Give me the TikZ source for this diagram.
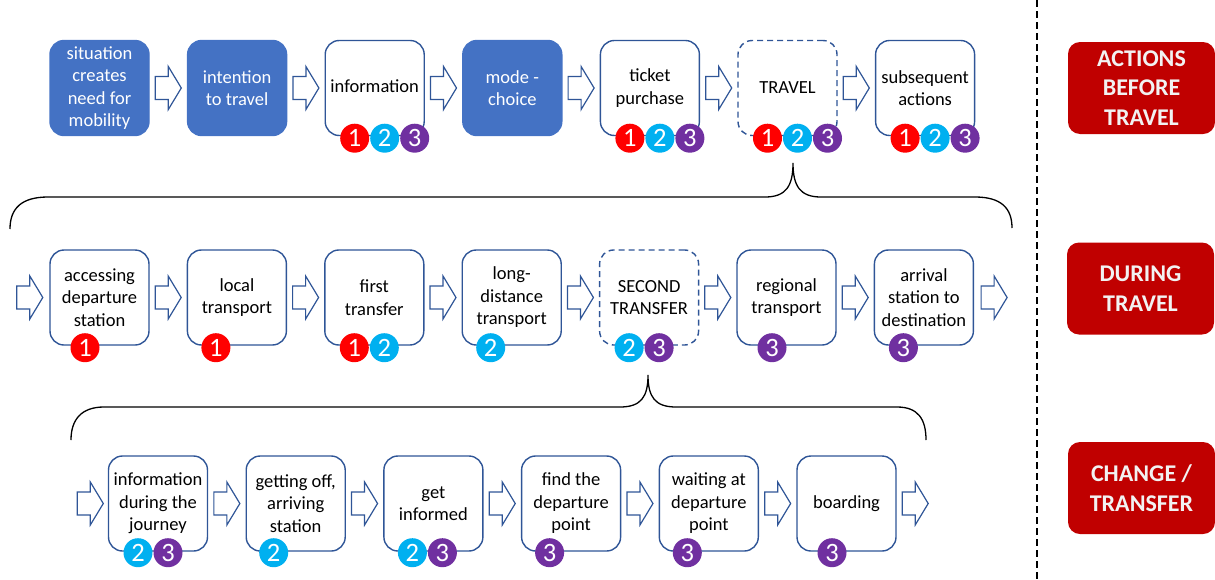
\documentclass[tikz,border=0pt]{standalone}
\usepackage{fontspec}
\setmainfont{Carlito}
\usetikzlibrary{calc}
\definecolor{boxblue}{HTML}{4472C4}
\definecolor{edgeblue}{HTML}{2F5597}
\definecolor{badgered}{HTML}{FF0000}
\definecolor{badgecyan}{HTML}{00B0F0}
\definecolor{badgepurple}{HTML}{7030A0}
\definecolor{phasered}{HTML}{C00000}
\definecolor{phasetext}{HTML}{F2F2F2}
\tikzset{
  stage/.style={draw=edgeblue, line width=1.4pt, rounded corners=14pt,
    minimum width=99pt, minimum height=95pt, align=center, inner sep=2pt,
    fill=white, font=\fontsize{18.5}{22.5}\selectfont},
  filledstage/.style={stage, fill=boxblue, draw=boxblue, text=white},
  dashedstage/.style={stage, dash pattern=on 6pt off 4pt},
  badge/.style={circle, minimum size=29pt, inner sep=0pt, text=white,
    font=\fontsize{26.5}{26.5}\selectfont},
  badgeone/.style={badge, fill=badgered},
  badgetwo/.style={badge, fill=badgecyan},
  badgethree/.style={badge, fill=badgepurple},
  phase/.style={fill=phasered, rounded corners=12pt, text=phasetext,
    font=\bfseries\fontsize{24}{29.5}\selectfont, align=center,
    minimum width=147pt, minimum height=92pt, inner sep=0pt},
  bracket/.style={draw=black, line width=1.3pt},
  flowarrow/.pic={
    \draw[draw=edgeblue, fill=white, line width=1.2pt]
      (-13,-11.5) -- (0,-11.5) -- (0,-21.5) -- (13,0) -- (0,21.5)
      -- (0,11.5) -- (-13,11.5) -- cycle;
  }
}
\begin{document}
\begin{tikzpicture}[x=1pt, y=-1pt]
\useasboundingbox (0,0) rectangle (1215,579);

% separator between flow and phase labels
\draw[dash pattern=on 7pt off 4pt, line width=1.3pt] (1037,0) -- (1037,579);

% ---- actions before travel
\node[filledstage] (a1) at (99.5,88)  {situation\\creates\\need for\\mobility};
\node[filledstage] (a2) at (237.1,88) {intention\\to travel};
\node[stage]       (a3) at (374.7,88) {\raisebox{4pt}{information}};
\node[filledstage] (a4) at (512.3,88) {mode -\\choice};
\node[stage]       (a5) at (649.9,88) {ticket\\purchase};
\node[dashedstage] (a6) at (787.5,88) {TRAVEL};
\node[stage]       (a7) at (925.1,88) {subsequent\\actions};

\foreach \p/\q in {a1/a2,a2/a3,a3/a4,a4/a5,a5/a6,a6/a7}
  \path ($(\p.east)!0.5!(\q.west)$) pic {flowarrow};

\foreach \s in {a3,a5,a6,a7}{
  \node[badgeone]   (\s-one)   at ($(\s.south)+(-20,2)$) {1};
  \node[badgetwo]   (\s-two)   at ($(\s.south)+(10,2)$)  {2};
  \node[badgethree] (\s-three) at ($(\s.south)+(40,2)$)  {3};
}

% brace opening the travel stage
\draw[bracket] (10,229) .. controls (10,208) and (22,197) .. (48,197)
  -- (765,197) .. controls (786,197) and (793,186) .. (793,163)
  .. controls (793,186) and (800,197) .. (821,197)
  -- (975,197) .. controls (1001,197) and (1012,208) .. (1012,228);

% ---- during travel
\node[stage]       (b1) at (99.5,297.5)  {accessing\\departure\\station};
\node[stage]       (b2) at (236.9,297.5) {local\\transport};
\node[stage]       (b3) at (374.3,297.5) {first\\transfer};
\node[stage]       (b4) at (511.7,297.5) {long-\\distance\\transport};
\node[dashedstage] (b5) at (649.1,297.5) {SECOND\\TRANSFER};
\node[stage]       (b6) at (786.5,297.5) {regional\\transport};
\node[stage]       (b7) at (923.9,297.5) {arrival\\station to\\destination};

\path ($(b1.west)+(-19.5,0)$) pic {flowarrow};
\foreach \p/\q in {b1/b2,b2/b3,b3/b4,b4/b5,b5/b6,b6/b7}
  \path ($(\p.east)!0.5!(\q.west)$) pic {flowarrow};
\path ($(b7.east)+(20,0)$) pic {flowarrow};

\node[badgeone]   (b1-one)   at ($(b1.south)+(-14.5,2)$) {1};
\node[badgeone]   (b2-one)   at ($(b2.south)+(-21,2)$)   {1};
\node[badgeone]   (b3-one)   at ($(b3.south)+(-20,2)$)   {1};
\node[badgetwo]   (b3-two)   at ($(b3.south)+(10,2)$)    {2};
\node[badgetwo]   (b4-two)   at ($(b4.south)+(-21,2)$)   {2};
\node[badgetwo]   (b5-two)   at ($(b5.south)+(-20,2)$)   {2};
\node[badgethree] (b5-three) at ($(b5.south)+(10,2)$)    {3};
\node[badgethree] (b6-three) at ($(b6.south)+(-14.5,2)$) {3};
\node[badgethree] (b7-three) at ($(b7.south)+(-20.5,2)$) {3};

% brace opening the second transfer
\draw[bracket] (71,440) .. controls (71,419) and (82,407) .. (104,407)
  -- (620,407) .. controls (641,407) and (648,397) .. (648,375)
  .. controls (648,397) and (655,407) .. (676,407)
  -- (897,407) .. controls (918,407) and (926,419) .. (926,440);

% ---- change / transfer
\node[stage] (c1) at (158,503.5)   {information\\during the\\journey};
\node[stage] (c2) at (295.7,503.5) {getting off,\\arriving\\station};
\node[stage] (c3) at (433.4,503.5) {get\\informed};
\node[stage] (c4) at (571.1,503.5) {find the\\departure\\point};
\node[stage] (c5) at (708.8,503.5) {waiting at\\departure\\point};
\node[stage] (c6) at (846.5,503.5) {boarding};

\path ($(c1.west)+(-17.5,0)$) pic {flowarrow};
\foreach \p/\q in {c1/c2,c2/c3,c3/c4,c4/c5,c5/c6}
  \path ($(\p.east)!0.5!(\q.west)$) pic {flowarrow};
\path ($(c6.east)+(18.5,0)$) pic {flowarrow};

\node[badgetwo]   (c1-two)   at ($(c1.south)+(-20,1)$)   {2};
\node[badgethree] (c1-three) at ($(c1.south)+(10,1)$)    {3};
\node[badgetwo]   (c2-two)   at ($(c2.south)+(-22,1)$)   {2};
\node[badgetwo]   (c3-two)   at ($(c3.south)+(-21,1)$)   {2};
\node[badgethree] (c3-three) at ($(c3.south)+(9,1)$)     {3};
\node[badgethree] (c4-three) at ($(c4.south)+(-21.5,1)$) {3};
\node[badgethree] (c5-three) at ($(c5.south)+(-21.5,1)$) {3};
\node[badgethree] (c6-three) at ($(c6.south)+(-14.5,1)$) {3};

% ---- phase labels
\node[phase] (before) at (1141.5,88) {ACTIONS\\BEFORE\\TRAVEL};
\node[phase] (during) at (1140.5,288.5) {DURING\\TRAVEL};
\node[phase] (change) at (1141.5,488)  {CHANGE /\\TRANSFER};
\end{tikzpicture}
\end{document}
